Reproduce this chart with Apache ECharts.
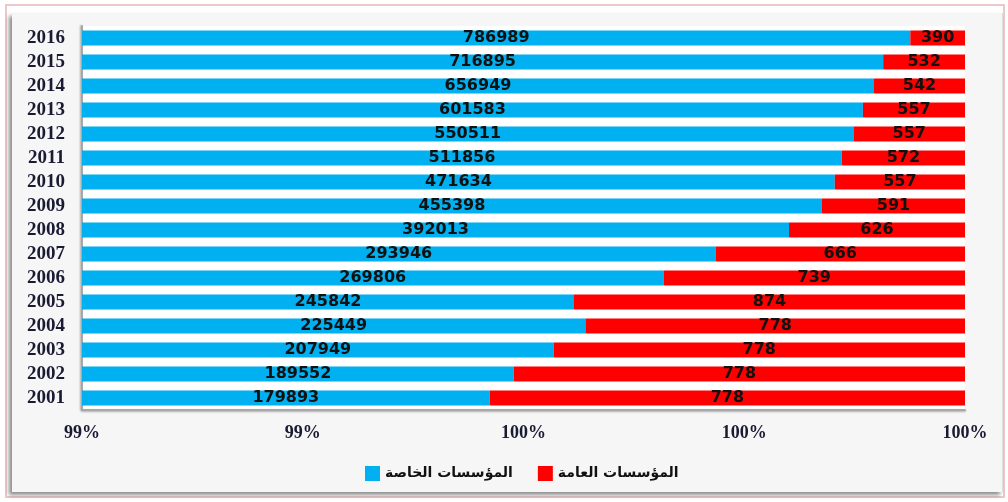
<!DOCTYPE html>
<html>
<head>
<meta charset="utf-8">
<script src="https://cdn.jsdelivr.net/npm/echarts@6/dist/echarts.min.js"></script>
<style>
  html, body { margin: 0; padding: 0; background: #fff; }
  #wrap { position: relative; width: 1008px; height: 502px; overflow: hidden; }
  #frame { position: absolute; left: 5px; top: 4px; width: 1000px; height: 494px; border: 2px solid #ecc8c8; box-sizing: border-box; }
  #panel { position: absolute; left: 12px; top: 13px; width: 990px; height: 479px; background: #f6f6f6;
           box-shadow: -3px 3px 4px rgba(0,0,0,0.45); border-right: 1px solid #ddd; }
  #chart { position: absolute; left: 0; top: 0; width: 1008px; height: 502px; }
</style>
</head>
<body>
<div id="wrap">
  <div id="frame"></div>
  <div id="panel"></div>
  <div id="chart"></div>
</div>
<script>
const years = ['2001','2002','2003','2004','2005','2006','2007','2008','2009','2010','2011','2012','2013','2014','2015','2016'];
const privateInst = [179893,189552,207949,225449,245842,269806,293946,392013,455398,471634,511856,550511,601583,656949,716895,786989];
const publicInst = [778,778,778,778,874,739,666,626,591,557,572,557,557,542,532,390];
const seriesNames = ['المؤسسات الخاصة', 'المؤسسات العامة'];
const axisMin = 0.992, axisMax = 1, axisStep = 0.002;

const privateShare = privateInst.map((v, i) => v / (v + publicInst[i]));
const publicShare = publicInst.map((v, i) => v / (v + privateInst[i]));

const chart = echarts.init(document.getElementById('chart'), null, { renderer: 'canvas' });
const labelStyle = {
  show: true, position: 'inside', color: '#111',
  fontFamily: 'DejaVu Sans', fontWeight: 'bold', fontSize: 16
};
chart.setOption({
  backgroundColor: 'transparent',
  animation: false,
  grid: { left: 82, right: 43, top: 26, bottom: 92, show: true, backgroundColor: '#ffffff', borderWidth: 0 },
  legend: {
    left: 360, top: 461, itemWidth: 15, itemHeight: 15, itemGap: 25,
    icon: 'rect',
    textStyle: { fontFamily: 'DejaVu Sans', fontWeight: 'bold', fontSize: 14, color: '#111', padding: [0, 4, 0, 0] },
    data: seriesNames
  },
  xAxis: {
    type: 'value', min: axisMin, max: axisMax, interval: axisStep,
    axisLine: { show: true, lineStyle: { color: '#a8a8a8', width: 2, shadowColor: 'rgba(0,0,0,0.3)', shadowBlur: 2, shadowOffsetY: 1 } },
    axisTick: { show: false },
    splitLine: { show: false },
    axisLabel: {
      margin: 14,
      formatter: v => Math.round(v * 100) + '%',
      fontFamily: 'Liberation Serif', fontWeight: 'bold', fontSize: 18, color: '#1a1a33'
    }
  },
  yAxis: {
    type: 'category', data: years,
    axisLine: { show: true, lineStyle: { color: '#a8a8a8', width: 2, shadowColor: 'rgba(0,0,0,0.3)', shadowBlur: 2, shadowOffsetX: -1 } },
    axisTick: { show: false },
    axisLabel: { interval: 0, margin: 17, fontFamily: 'Liberation Serif', fontWeight: 'bold', fontSize: 19, color: '#1a1a33' }
  },
  series: [
    {
      name: seriesNames[0], type: 'bar', stack: 'total', barWidth: 15,
      itemStyle: { color: '#00b0f0' },
      label: Object.assign({}, labelStyle, { formatter: p => String(privateInst[p.dataIndex]) }),
      data: privateShare
    },
    {
      name: seriesNames[1], type: 'bar', stack: 'total', barWidth: 15,
      itemStyle: { color: '#ff0000' },
      label: Object.assign({}, labelStyle, { formatter: p => String(publicInst[p.dataIndex]) }),
      data: publicShare
    }
  ]
});
</script>
</body>
</html>
